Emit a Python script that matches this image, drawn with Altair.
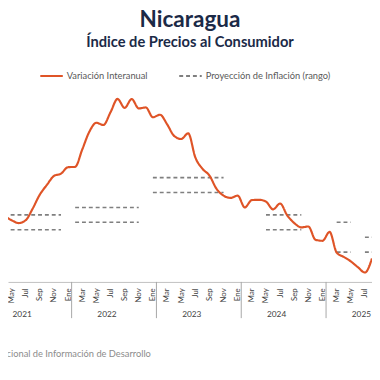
import altair as alt
import pandas as pd

# ---- data (x = months since Jan 2021; 0 = Ene 2021) ----
mes = list(range(2, 56))
inflacion = [4.14, 4.36, 4.14, 3.95, 4.14, 4.93, 5.86, 6.51, 7.11, 7.27,
             7.70, 7.72, 8.88, 10.07, 10.68, 10.53, 11.38, 12.28, 11.68, 12.27,
             11.64, 11.71, 11.05, 11.22, 10.59, 9.80, 9.59, 9.97, 8.36, 7.60,
             7.14, 6.25, 5.79, 5.64, 5.79, 5.00, 5.49, 5.51, 5.39, 4.87,
             5.26, 4.47, 3.95, 3.66, 3.72, 2.83, 2.76, 3.36, 1.97, 1.68,
             1.38, 0.99, 0.63, 1.58]

proy_seg = ["21s", "21i", "22s", "22i", "23s", "23i", "24s", "24i", "25as", "25ai", "25bs", "25bi"]
proy_inicio = [0, 0, 13, 13, 24, 24, 40, 40, 50, 50, 54, 54]
proy_fin = [11, 11, 22, 22, 34, 34, 45, 45, 52, 52, 55, 55]
proy_valor = [4.5, 3.5, 5.0, 4.0, 7.0, 6.0, 4.5, 3.5, 4.0, 2.0, 3.0, 2.0]

meses_nombre = ["Ene", "Feb", "Mar", "Abr", "May", "Jun", "Jul", "Ago", "Sep", "Oct", "Nov", "Dic"]
etiquetas_mes = list(range(2, 56, 2))
separadores = [12.5, 24.5, 36.5, 48.5]
anios = ["2021", "2022", "2023", "2024", "2025"]
anios_pos = [5.5, 17.5, 29.5, 41.5, 53.5]

series = ["Variación Interanual", "Proyección de Inflación (rango)"]
fuente = "Fuente: Sistema Nacional de Información de Desarrollo"

# ---- tables ----
df_line = pd.DataFrame({"mes": mes, "valor": inflacion, "serie": series[0]})
rows = []
for s, a, b, v in zip(proy_seg, proy_inicio, proy_fin, proy_valor):
    rows.append({"seg": s, "mes": a, "valor": v, "serie": series[1]})
    rows.append({"seg": s, "mes": b, "valor": v, "serie": series[1]})
df_proy = pd.DataFrame(rows)
df_sep = pd.DataFrame({"mes": separadores})
df_year = pd.DataFrame({"mes": anios_pos, "anio": anios})
df_src = pd.DataFrame({"t": [fuente]})

W, H = 372, 198
FONT = "Lato"

x_scale = alt.Scale(domain=[3.5, 55.0], nice=False, zero=False)
y_scale = alt.Scale(domain=[0, 13], nice=False)

leg = alt.Legend(title=None, orient="none", legendX=32, legendY=-25, direction="horizontal",
                 columnPadding=28, labelFont=FONT, labelFontSize=9.5, labelColor="#595959",
                 symbolType="stroke", symbolSize=529, symbolStrokeWidth=2, padding=0, labelOffset=3)

color = alt.Color("serie:N", scale=alt.Scale(domain=series, range=["#DF5427", "#7F7F7F"]), legend=leg)
dash = alt.StrokeDash("serie:N", scale=alt.Scale(domain=series, range=[[1, 0], [4, 3]]), legend=leg)

x_axis = alt.Axis(values=etiquetas_mes,
                  labelExpr="['" + "','".join(meses_nombre) + "'][datum.value % 12]",
                  labelAngle=270, labelAlign="right", labelBaseline="middle", labelPadding=6,
                  ticks=False, grid=False, domainColor="#BFBFBF", domainWidth=1,
                  labelFont=FONT, labelFontSize=8, labelColor="#404040", title=None,
                  labelOverlap=False, labelFlush=False, labelBound=False)

proy = alt.Chart(df_proy).mark_line(strokeWidth=1.6, clip=True).encode(
    x=alt.X("mes:Q", scale=x_scale, axis=x_axis),
    y=alt.Y("valor:Q", scale=y_scale, axis=None),
    detail="seg:N", color=color, strokeDash=dash)

line = alt.Chart(df_line).mark_line(interpolate="monotone", strokeWidth=2.2, clip=True).encode(
    x=alt.X("mes:Q", scale=x_scale, axis=x_axis),
    y=alt.Y("valor:Q", scale=y_scale, axis=None),
    color=color, strokeDash=dash)

sep = alt.Chart(df_sep).mark_rule(color="#A6A6A6", strokeWidth=1).encode(
    x=alt.X("mes:Q", scale=x_scale, axis=x_axis), y=alt.value(H), y2=alt.value(H + 37))

years = alt.Chart(df_year).mark_text(font=FONT, fontSize=8.5, color="#404040", baseline="middle").encode(
    x=alt.X("mes:Q", scale=x_scale, axis=x_axis), y=alt.value(H + 33), text="anio:N")

src = alt.Chart(df_src).mark_text(font=FONT, fontSize=9.5, color="#8C8C8C", align="right",
                                  baseline="middle").encode(
    x=alt.value(146), y=alt.value(272), text="t:N")

chart = alt.layer(proy, line, sep, years, src).properties(
    width=W, height=H,
    autosize=alt.AutoSizeParams(type="none"),
    padding={"top": 78, "left": 0, "right": 0, "bottom": 84},
    title=alt.TitleParams(text="Nicaragua", subtitle="Índice de Precios al Consumidor",
                          font=FONT, fontSize=23, fontWeight="bold", color="#1B2A47",
                          subtitleFont=FONT, subtitleFontSize=15, subtitleFontWeight="bold",
                          subtitleColor="#1B2A47", anchor="middle", offset=14, subtitlePadding=4),
).configure_view(stroke=None).configure_axisX(labelOverlap=False)

chart.save("out.html", embed_options={"renderer": "svg", "actions": False})
